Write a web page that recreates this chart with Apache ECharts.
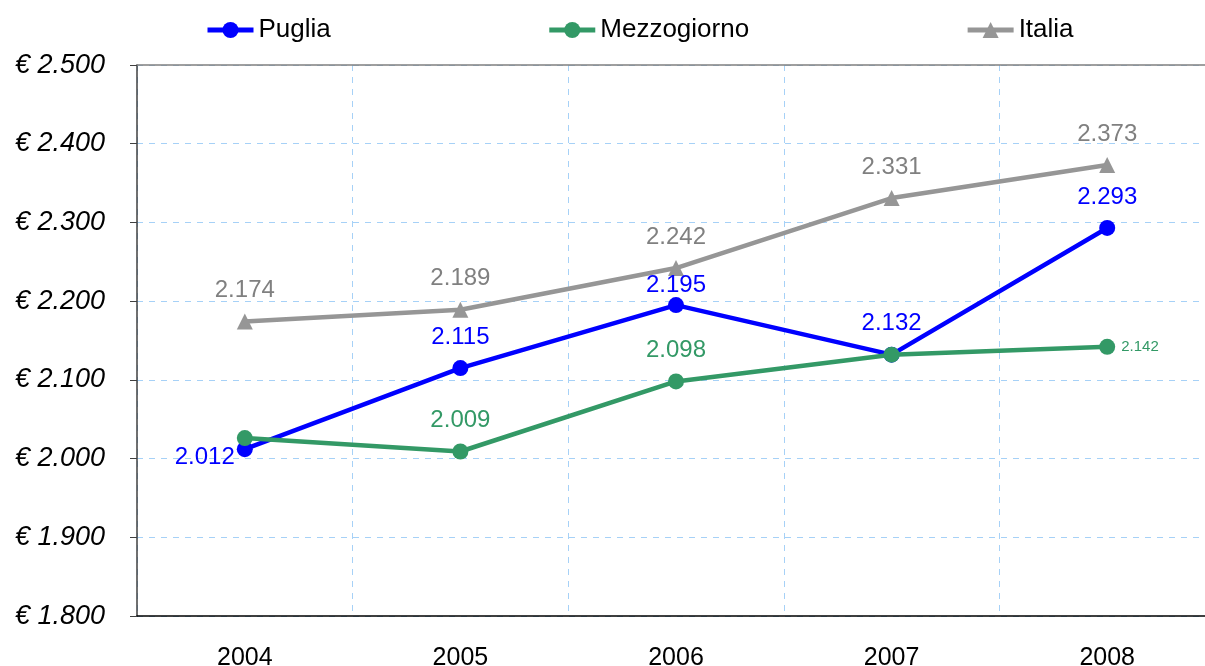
<!DOCTYPE html>
<html>
<head>
<meta charset="utf-8">
<script src="https://cdn.jsdelivr.net/npm/echarts@6/dist/echarts.min.js"></script>
<style>
  html, body { margin: 0; padding: 0; background: #fff; }
  #chart { width: 1205px; height: 666px; }
</style>
</head>
<body>
<div id="chart"></div>
<script>
// dati
var years = ['2004', '2005', '2006', '2007', '2008'];
var puglia = [2012, 2115, 2195, 2132, 2293];
var mezzogiorno = [2026, 2009, 2098, 2132, 2142];
var italia = [2174, 2189, 2242, 2331, 2373];

var fmt = function (v) {
  var s = String(Math.round(v));
  return s.length > 3 ? s.slice(0, -3) + '.' + s.slice(-3) : s;
};

var myChart = echarts.init(document.getElementById('chart'));

// etichette per punto
var pugliaLabels = [
  { position: 'left', distance: 2, offset: [0, 8] },
  {},
  { distance: 0 },
  {},
  {}
];
var mezzLabels = [
  { show: false },
  {},
  {},
  { show: false },
  { position: 'right', distance: 6, fontSize: 15 }
];

function withLabels(values, labels) {
  return values.map(function (v, i) {
    var item = { value: v };
    if (labels && labels[i]) item.label = labels[i];
    return item;
  });
}

var option = {
  animation: false,
  textStyle: { fontFamily: 'Liberation Sans, Arial, sans-serif' },
  legend: {
    top: 12,
    left: 200,
    itemGap: 216,
    itemWidth: 46,
    itemHeight: 20,
    lineStyle: { width: 5 },
    textStyle: { fontSize: 26, color: '#000' },
    data: ['Puglia', 'Mezzogiorno', 'Italia']
  },
  grid: { left: 137, width: 1078, top: 65, bottom: 50, outerBoundsMode: 'none', containLabel: false },
  xAxis: [
    {
      type: 'category',
      data: years,
      boundaryGap: true,
      axisLine: { lineStyle: { color: '#000', width: 1.5 } },
      axisTick: { show: false },
      axisLabel: { fontSize: 25, color: '#000', margin: 30 },
      splitLine: { show: true, lineStyle: { color: '#a6d1f7', type: [6, 6] } }
    },
    {
      type: 'category',
      data: years,
      position: 'top',
      axisLine: { lineStyle: { color: '#808080', width: 1.5 } },
      axisTick: { show: false },
      axisLabel: { show: false }
    }
  ],
  yAxis: {
    type: 'value',
    min: 1800,
    max: 2500,
    interval: 100,
    axisLine: { show: true, lineStyle: { color: '#404040', width: 1.5 } },
    axisTick: { show: true, length: 7, lineStyle: { color: '#404040' } },
    axisLabel: {
      fontSize: 27,
      fontStyle: 'italic',
      color: '#000',
      margin: 32,
      formatter: function (v) { return '€ ' + fmt(v); }
    },
    splitLine: { show: true, lineStyle: { color: '#a6d1f7', type: [6, 6] } }
  },
  series: [
    {
      name: 'Italia',
      type: 'line',
      data: withLabels(italia),
      symbol: 'triangle',
      symbolSize: 16,
      z: 2,
      itemStyle: { color: '#969696' },
      lineStyle: { color: '#969696', width: 4.5 },
      label: {
        show: true, position: 'top', distance: 11,
        fontSize: 24, color: '#808080',
        formatter: function (p) { return fmt(p.value); }
      }
    },
    {
      name: 'Puglia',
      type: 'line',
      data: withLabels(puglia, pugliaLabels),
      symbol: 'circle',
      symbolSize: 16,
      z: 3,
      itemStyle: { color: '#0000ff' },
      lineStyle: { color: '#0000ff', width: 4.5 },
      label: {
        show: true, position: 'top', distance: 11,
        fontSize: 24, color: '#0000ff',
        formatter: function (p) { return fmt(p.value); }
      }
    },
    {
      name: 'Mezzogiorno',
      type: 'line',
      data: withLabels(mezzogiorno, mezzLabels),
      symbol: 'circle',
      symbolSize: 16,
      z: 4,
      itemStyle: { color: '#339966' },
      lineStyle: { color: '#339966', width: 4.5 },
      label: {
        show: true, position: 'top', distance: 11,
        fontSize: 24, color: '#339966',
        formatter: function (p) { return fmt(p.value); }
      }
    }
  ]
};

option && myChart.setOption(option);
</script>
</body>
</html>
